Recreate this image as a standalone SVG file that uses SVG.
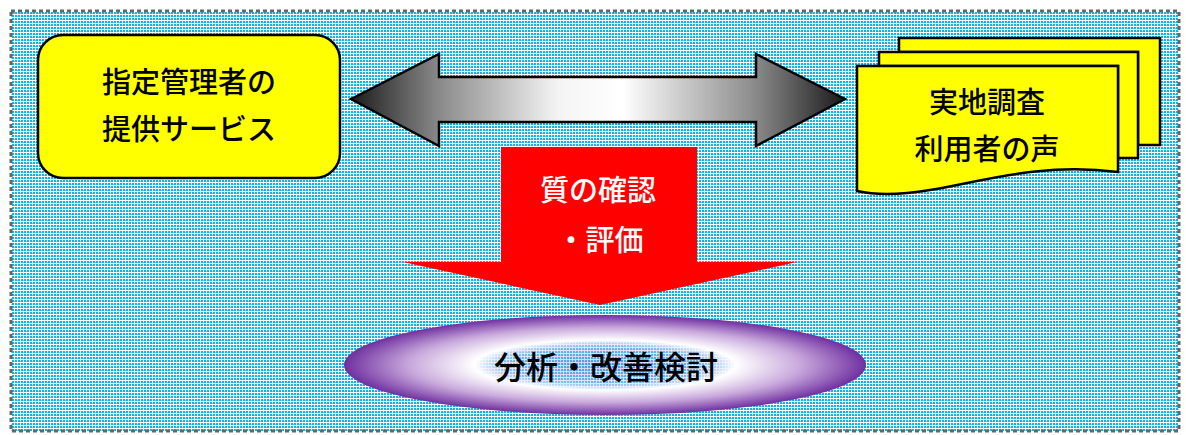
<svg xmlns="http://www.w3.org/2000/svg" width="1186" height="435" viewBox="0 0 1186 435">
<style>
.t{font-family:"Noto Sans CJK JP","Noto Sans CJK SC",sans-serif;font-size:29px;font-weight:500;text-anchor:middle;fill:#000}
.w{fill:#fff}
.yel{fill:#ffff00;stroke:#000;stroke-width:2.5}
</style>
<defs>
<pattern id="bg" width="6" height="6" patternUnits="userSpaceOnUse">
<rect width="6" height="6" fill="#fff"/>
<rect x="0" y="0" width="2" height="2" fill="#0cb2f2"/>
<rect x="3" y="0" width="2" height="2" fill="#0cb2f2"/>
<rect x="0" y="3" width="2" height="2" fill="#0cb2f2"/>
<rect x="3" y="3" width="2" height="2" fill="#0cb2f2"/>
<rect x="2" y="1" width="1" height="1" fill="#7fd6f8"/>
<rect x="5" y="4" width="1" height="1" fill="#7fd6f8"/>
</pattern>
<linearGradient id="ag" x1="350" y1="0" x2="845" y2="0" gradientUnits="userSpaceOnUse">
<stop offset="0" stop-color="#1a1a1a"/>
<stop offset="0.18" stop-color="#8a8a8a"/>
<stop offset="0.42" stop-color="#f4f4f4"/>
<stop offset="0.55" stop-color="#ffffff"/>
<stop offset="0.82" stop-color="#8a8a8a"/>
<stop offset="1" stop-color="#1a1a1a"/>
</linearGradient>
<radialGradient id="eg" cx="0.5" cy="0.5" r="0.5">
<stop offset="0" stop-color="#8a7ae0" stop-opacity="0.35"/>
<stop offset="0.35" stop-color="#c8c0f0" stop-opacity="0.45"/>
<stop offset="0.5" stop-color="#ffffff" stop-opacity="1"/>
<stop offset="0.75" stop-color="#c8a8dc"/>
<stop offset="1" stop-color="#7030a0"/>
</radialGradient>
</defs>
<rect x="11" y="11" width="1168" height="420" fill="url(#bg)" stroke="#666" stroke-width="3" stroke-dasharray="4 3"/>
<g id="connectors">
<path id="double-arrow" d="M351,99 L439,54 L439,77 L756,77 L756,54 L845,99 L756,146 L756,122 L439,122 L439,146 Z" fill="url(#ag)" stroke="#000" stroke-width="2.5" stroke-linejoin="miter"/>
<path id="down-arrow" d="M501,147 L697,147 L697,262 L797,262 L600,305 L403,262 L501,262 Z" fill="#ff0000"/>
</g>
<g id="node-provider">
<rect x="38" y="35" width="302" height="143" rx="25" ry="25" class="yel"/>
<text class="t" x="189" y="93">指定管理者の</text>
<text class="t" x="189" y="140">提供サービス</text>
</g>
<g id="node-survey">
<path d="M899,38 L1160,38 L1160,145 L1138,145 L1138,52 L899,52 Z" class="yel"/>
<path d="M879,52 L1138,52 L1138,158 L1118,158 L1118,66 L879,66 Z" class="yel"/>
<path d="M857,66 L1118,66 L1118,172 C1040,162 980,182 930,190 C900,195 875,195 857,191 Z" class="yel"/>
<text class="t" x="987" y="113">実地調査</text>
<text class="t" x="987" y="160">利用者の声</text>
</g>
<g id="node-evaluation">
<text class="t w" x="598" y="201">質の確認</text>
<text class="t w" x="600" y="251">・評価</text>
</g>
<g id="node-analysis">
<ellipse cx="605" cy="365" rx="261" ry="50" fill="url(#eg)"/>
<text class="t" x="606" y="379" style="font-size:32px">分析・改善検討</text>
</g>
</svg>
